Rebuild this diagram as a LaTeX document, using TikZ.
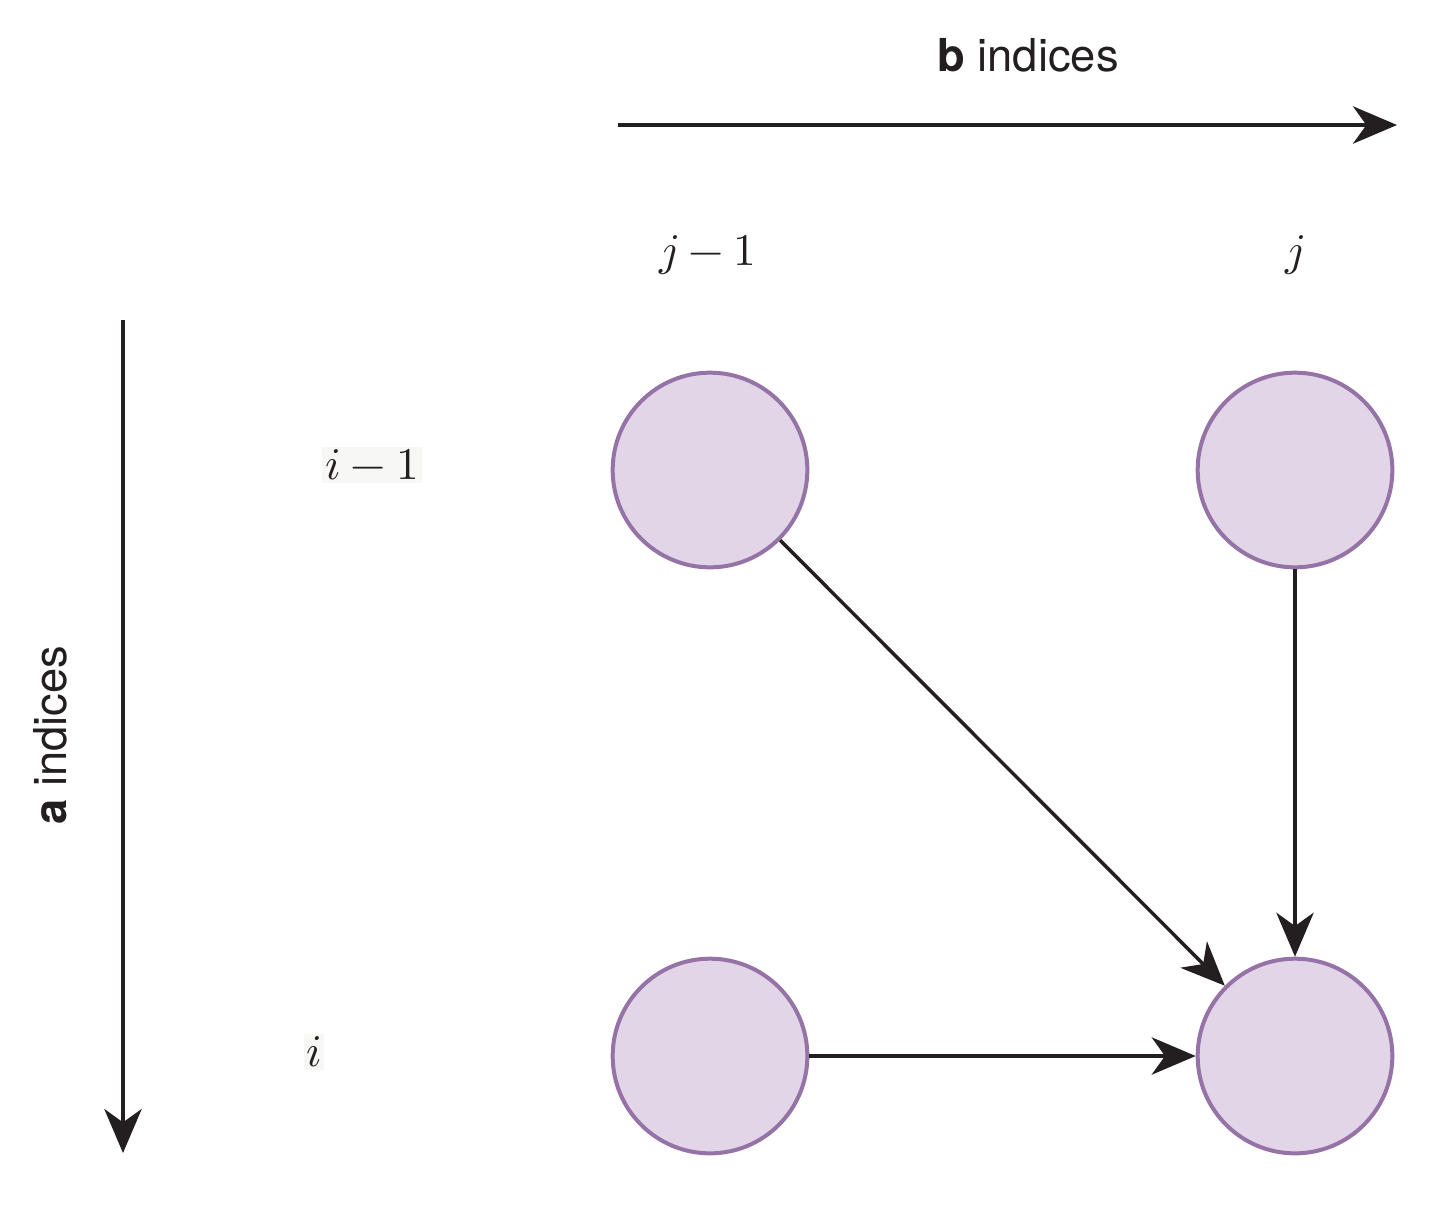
\documentclass[tikz,border=0pt]{standalone}
\usepackage{fontspec}
\setmainfont{TeX Gyre Heros}
\usepackage{unicode-math}
\setmathfont{Latin Modern Math}
\usetikzlibrary{arrows.meta}
\definecolor{nfill}{HTML}{E1D5E7}
\definecolor{nline}{HTML}{9673A6}
\definecolor{ink}{HTML}{231F20}
\definecolor{lbg}{HTML}{F7F7F5}
\begin{document}
\begin{tikzpicture}[x=0.75pt,y=-0.75pt,
  cell/.style={circle,draw=nline,fill=nfill,line width=3pt,minimum size=146pt,inner sep=0pt},
  conn/.style={draw=ink,line width=2.6pt,-{Stealth[length=33pt,width=28pt,inset=10pt]}},
  lbl/.style={font=\fontsize{34}{40}\selectfont,text=ink}]
\useasboundingbox (0,0) rectangle (1433,1204);
\node[cell] (a) at (710,470) {};
\node[cell] (b) at (1295,470) {};
\node[cell] (c) at (710,1056) {};
\node[cell] (d) at (1295,1056) {};
\coordinate (t1) at (618,125); \coordinate (t2) at (1397,125);
\coordinate (l1) at (123,320); \coordinate (l2) at (123,1153);
\draw[conn] (t1) -- (t2);
\draw[conn] (l1) -- (l2);
\draw[conn] (a) -- (d);
\draw[conn] (b) -- (d);
\draw[conn] (c) -- (d);
\node[lbl] (bt) at (1028,55) {$\mathbf{b}$ indices};
\node[lbl,rotate=90] (at) at (50,735) {$\mathbf{a}$ indices};
\node[lbl] (j1) at (708,255) {$j-1$};
\node[lbl] (j) at (1295,255) {$j$};
\node[lbl,fill=lbg,inner sep=2pt] (i1) at (372,465) {$i-1$};
\node[lbl,fill=lbg,inner sep=2pt] (i) at (314,1052) {$i$};
\end{tikzpicture}
\end{document}
